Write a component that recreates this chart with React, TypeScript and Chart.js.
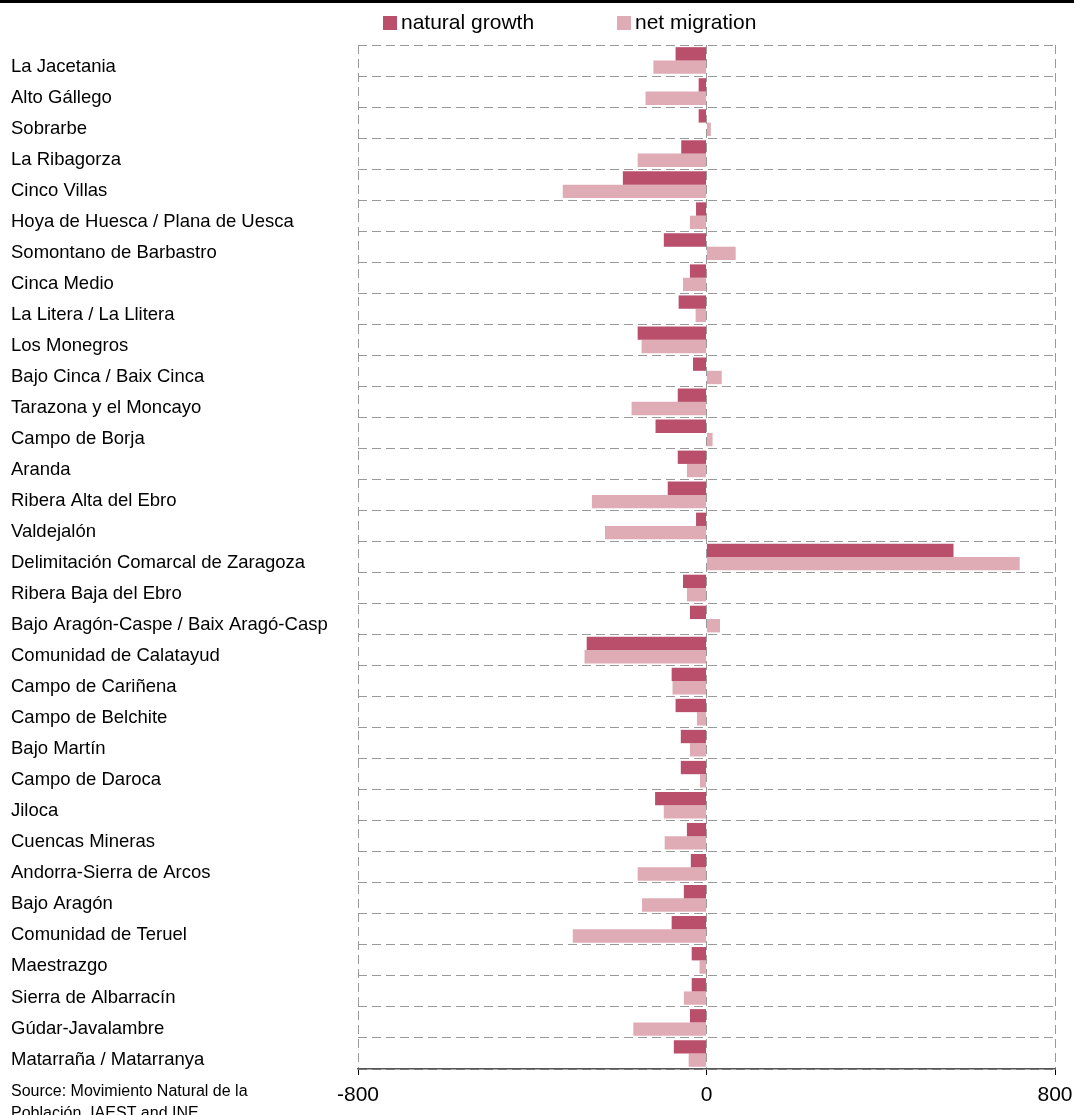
import React, { useEffect, useRef } from "react";
import { Chart, registerables } from "chart.js";

Chart.register(...registerables);

const categories = [
  "La Jacetania",
  "Alto Gállego",
  "Sobrarbe",
  "La Ribagorza",
  "Cinco Villas",
  "Hoya de Huesca / Plana de Uesca",
  "Somontano de Barbastro",
  "Cinca Medio",
  "La Litera / La Llitera",
  "Los Monegros",
  "Bajo Cinca / Baix Cinca",
  "Tarazona y el Moncayo",
  "Campo de Borja",
  "Aranda",
  "Ribera Alta del Ebro",
  "Valdejalón",
  "Delimitación Comarcal de Zaragoza",
  "Ribera Baja del Ebro",
  "Bajo Aragón-Caspe / Baix Aragó-Casp",
  "Comunidad de Calatayud",
  "Campo de Cariñena",
  "Campo de Belchite",
  "Bajo Martín",
  "Campo de Daroca",
  "Jiloca",
  "Cuencas Mineras",
  "Andorra-Sierra de Arcos",
  "Bajo Aragón",
  "Comunidad de Teruel",
  "Maestrazgo",
  "Sierra de Albarracín",
  "Gúdar-Javalambre",
  "Matarraña / Matarranya",
];

const naturalGrowth = [
  -71, -18, -18, -58, -192, -24, -98, -38, -64, -158, -31, -66, -117, -66, -89, -24,
  567, -54, -38, -275, -80, -71, -59, -59, -118, -45, -36, -52, -80, -34, -34, -38, -75,
];

const netMigration = [
  -122, -140, 10, -158, -330, -38, 67, -54, -25, -149, 35, -172, 14, -45, -263, -233,
  719, -45, 31, -280, -78, -22, -38, -15, -98, -96, -158, -148, -307, -16, -52, -168, -41,
];

const seriesNames = ["natural growth", "net migration"];
const seriesColors = ["#B94F6B", "#DFACB6"];
const xTicks = [-800, 0, 800];
const sourceLines = ["Source: Movimiento Natural de la", "Población, IAEST and INE"];

const FONT = "'Liberation Sans', Arial, Helvetica, sans-serif";

const decorPlugin = {
  id: "decor",
  afterDraw(chart: any) {
    const ctx = chart.ctx;
    ctx.save();
    ctx.fillStyle = "#000";
    ctx.fillRect(0, 0, chart.width, 3);
    const legendX = [383, 617];
    chart.data.datasets.forEach((ds: any, i: number) => {
      ctx.fillStyle = ds.backgroundColor;
      ctx.fillRect(legendX[i], 16, 14, 14);
      ctx.fillStyle = "#000";
      ctx.font = `21px ${FONT}`;
      ctx.textBaseline = "middle";
      ctx.textAlign = "left";
      ctx.fillText(ds.label, legendX[i] + 18, 23);
    });
    ctx.font = `16px ${FONT}`;
    ctx.textBaseline = "alphabetic";
    ctx.fillStyle = "#000";
    ctx.fillText(sourceLines[0], 11, 1096);
    ctx.fillText(sourceLines[1], 11, 1118);
    ctx.restore();
  },
};

export default function App() {
  const canvasRef = useRef<HTMLCanvasElement | null>(null);

  useEffect(() => {
    if (!canvasRef.current) return;
    const chart = new Chart(canvasRef.current, {
      type: "bar",
      data: {
        labels: categories,
        datasets: [
          {
            label: seriesNames[0],
            data: naturalGrowth,
            backgroundColor: seriesColors[0],
            borderWidth: 0,
            barPercentage: 1,
            categoryPercentage: 0.86,
          },
          {
            label: seriesNames[1],
            data: netMigration,
            backgroundColor: seriesColors[1],
            borderWidth: 0,
            barPercentage: 1,
            categoryPercentage: 0.86,
          },
        ],
      },
      options: {
        indexAxis: "y",
        animation: false,
        responsive: true,
        maintainAspectRatio: false,
        layout: { padding: { left: 11, right: 19, top: 45, bottom: 0 } },
        plugins: {
          legend: { display: false },
          tooltip: { enabled: false },
        },
        scales: {
          x: {
            type: "linear",
            min: xTicks[0],
            max: xTicks[xTicks.length - 1],
            afterBuildTicks: (scale: any) => {
              scale.ticks = xTicks.map((v) => ({ value: v }));
            },
            afterFit: (scale: any) => {
              scale.height = 46;
              scale.paddingLeft = 0;
              scale.paddingRight = 0;
            },
            ticks: {
              font: { family: FONT, size: 21 },
              color: "#000",
              padding: 8,
              maxRotation: 0,
            },
            grid: {
              color: "#999",
              lineWidth: 1,
              drawTicks: true,
              tickLength: 6,
              tickColor: "#000",
              tickBorderDash: [],
            },
            border: { display: true, color: "#555", width: 1.5, dash: [9, 5] },
          },
          y: {
            type: "category",
            afterFit: (scale: any) => {
              scale.width = 347;
            },
            ticks: {
              font: { family: FONT, size: 18.5 },
              color: "#000",
              crossAlign: "far",
              labelOffset: 6,
              autoSkip: false,
            },
            grid: {
              color: "#999",
              lineWidth: 1,
              offset: true,
              drawTicks: false,
            },
            border: { display: false, dash: [9, 5] },
          },
        },
      },
      plugins: [decorPlugin],
    } as any);
    return () => chart.destroy();
  }, []);

  return (
    <div style={{ position: "absolute", left: 0, top: 0, width: 1074, height: 1115 }}>
      <canvas ref={canvasRef} />
    </div>
  );
}
